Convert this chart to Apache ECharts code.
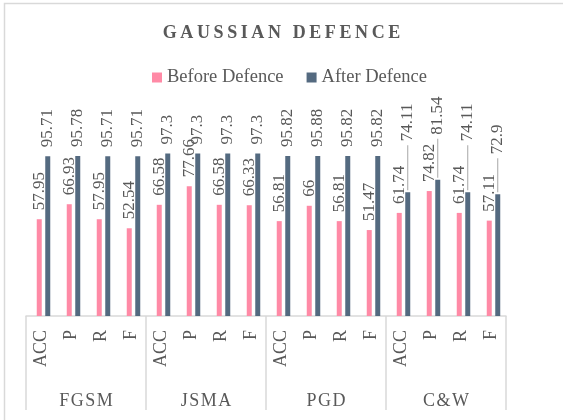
<!DOCTYPE html>
<html>
<head>
<meta charset="utf-8">
<script src="https://cdn.jsdelivr.net/npm/echarts@6/dist/echarts.min.js"></script>
<style>
  html, body { margin: 0; padding: 0; background: #fff; }
  #chart { width: 563px; height: 420px; }
</style>
</head>
<body>
<div id="chart"></div>
<script>
// 数据
const attacks = ["FGSM", "JSMA", "PGD", "C&W"];
const metrics = ["ACC", "P", "R", "F"];
const beforeDefence = [57.95, 66.93, 57.95, 52.54, 66.58, 77.66, 66.58, 66.33, 56.81, 66, 56.81, 51.47, 61.74, 74.82, 61.74, 57.11];
const afterDefence = [95.71, 95.78, 95.71, 95.71, 97.3, 97.3, 97.3, 97.3, 95.82, 95.88, 95.82, 95.82, 74.11, 81.54, 74.11, 72.9];

const FONT = "'Liberation Serif', 'Times New Roman', serif";
const GRAY = "#595959";
const LINE = "#d9d9d9";

// 16 个类别（每种攻击下 4 个指标）
const categories = [];
attacks.forEach(() => metrics.forEach((m) => categories.push(m)));

// C&W 组的 After 标签被上移，带一条引导线（线长，像素）
const leaderLen = { 12: 45, 13: 39, 14: 45, 15: 34 };

const chart = echarts.init(document.getElementById("chart"));

const valueLabel = {
  show: true,
  position: "top",
  rotate: 90,
  align: "left",
  verticalAlign: "middle",
  distance: 9,
  color: GRAY,
  fontFamily: FONT,
  fontSize: 17,
};

// 带引导线的标签
function leaderLabel(len) {
  return {
    distance: 2,
    formatter: "{l|}{g|}{v|{c}}",
    rich: {
      l: { width: len, height: 1, backgroundColor: "#a6a6a6" },
      g: { width: 4 },
      v: { color: GRAY, fontFamily: FONT, fontSize: 17 },
    },
  };
}

const option = {
  animation: false,
  title: {
    text: "GAUSSIAN DEFENCE".split("").join("\u2009"),
    left: "center",
    top: 24,
    padding: 0,
    textStyle: { fontFamily: FONT, fontSize: 18, fontWeight: "bold", color: GRAY },
  },
  legend: {
    top: 63,
    left: 147,
    icon: "rect",
    itemWidth: 10,
    itemHeight: 10,
    itemGap: 23,
    textStyle: { fontFamily: FONT, fontSize: 18.5, color: GRAY },
  },
  graphic: [
    {
      type: "rect",
      shape: { x: 4.5, y: 3.5, width: 700, height: 600 },
      style: { fill: "none", stroke: LINE, lineWidth: 1.5 },
      silent: true,
    },
  ],
  // grid 0: 柱子（略向右偏，和原图一致）；grid 1: 坐标轴
  grid: [
    { left: 28.5, right: 54.5, top: 149, bottom: 104 },
    { left: 26, right: 57, top: 149, bottom: 104 },
  ],
  xAxis: [
    {
      type: "category",
      gridIndex: 0,
      data: categories,
      show: false,
    },
    {
      type: "category",
      gridIndex: 1,
      data: categories,
      axisLine: { lineStyle: { color: LINE, width: 1.5 } },
      axisTick: { show: false },
      axisLabel: {
        interval: 0,
        rotate: 90,
        margin: 14,
        color: GRAY,
        fontFamily: FONT,
        fontSize: 18,
      },
    },
    {
      type: "category",
      gridIndex: 1,
      position: "bottom",
      data: attacks.map((a) => a.split("").join("\u200a")),
      axisLine: { show: false },
      axisTick: { show: true, length: 94, lineStyle: { color: LINE, width: 1.5 } },
      axisLabel: {
        interval: 0,
        margin: 76,
        color: GRAY,
        fontFamily: FONT,
        fontSize: 18,
      },
    },
  ],
  yAxis: [
    { type: "value", gridIndex: 0, min: 0, max: 100, show: false },
    { type: "value", gridIndex: 1, min: 0, max: 100, show: false },
  ],
  series: [
    {
      name: "Before Defence",
      type: "bar",
      xAxisIndex: 0,
      yAxisIndex: 0,
      data: beforeDefence,
      barWidth: 5,
      barGap: "70%",
      itemStyle: { color: "#ff8aa6" },
      label: valueLabel,
    },
    {
      name: "After Defence",
      type: "bar",
      xAxisIndex: 0,
      yAxisIndex: 0,
      data: afterDefence.map((v, i) =>
        leaderLen[i] !== undefined ? { value: v, label: leaderLabel(leaderLen[i]) } : v
      ),
      barWidth: 5,
      itemStyle: { color: "#546a80" },
      label: valueLabel,
    },
  ],
};

chart.setOption(option);
</script>
</body>
</html>
